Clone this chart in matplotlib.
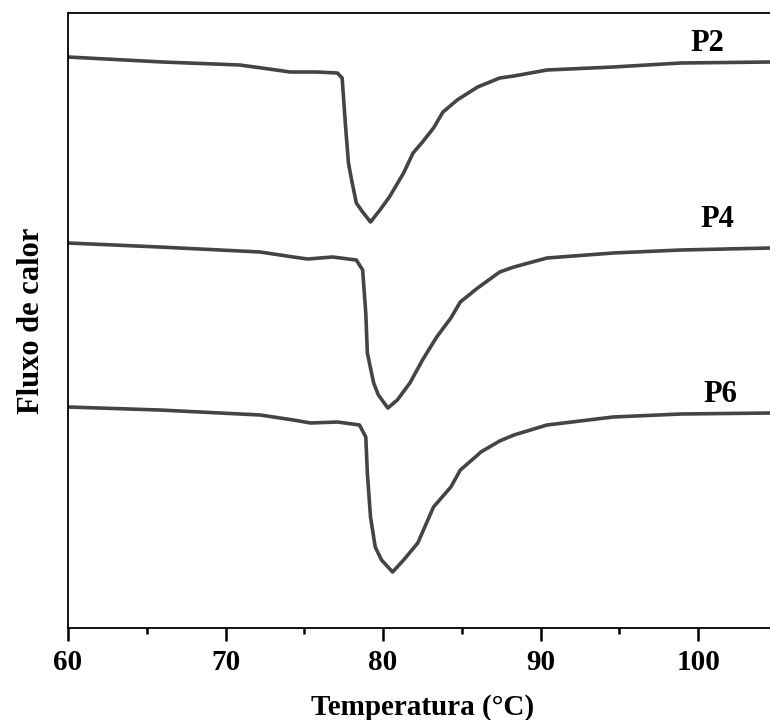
import matplotlib.pyplot as plt
from matplotlib.ticker import MultipleLocator

# Curvas de DSC (fluxo de calor em unidades arbitrarias)
temp_p2 = [60.0, 66.0, 70.9, 72.3, 74.1, 75.8, 77.1, 77.4, 77.6, 77.8, 78.0, 78.3,
           78.7, 79.2, 79.8, 80.4, 81.3, 81.9, 82.5, 83.2, 83.8, 84.7, 86.0, 87.4,
           88.3, 90.4, 94.6, 98.9, 104.6]
fluxo_p2 = [57.1, 56.6, 56.3, 56.0, 55.6, 55.6, 55.5, 55.0, 50.5, 46.5, 44.8, 42.5,
            41.6, 40.6, 41.8, 43.1, 45.5, 47.5, 48.6, 50.0, 51.6, 52.8, 54.1, 55.0,
            55.2, 55.8, 56.1, 56.5, 56.6]

temp_p4 = [60.0, 65.8, 72.2, 74.3, 75.2, 76.8, 78.3, 78.7, 78.9, 79.0, 79.4, 79.7,
           80.3, 80.9, 81.7, 82.5, 83.4, 84.3, 84.9, 86.0, 87.4, 88.3, 90.4, 94.6,
           98.9, 104.6]
fluxo_p4 = [38.5, 38.1, 37.6, 37.1, 36.9, 37.1, 36.8, 35.8, 31.5, 27.5, 24.5, 23.3,
            22.0, 22.8, 24.5, 26.8, 29.1, 31.0, 32.6, 34.0, 35.6, 36.1, 37.0, 37.5,
            37.8, 38.0]

temp_p6 = [60.0, 65.8, 72.2, 74.3, 75.4, 77.1, 78.5, 78.9, 79.0, 79.2, 79.5, 79.9,
           80.6, 81.3, 82.2, 83.2, 84.3, 84.9, 86.0, 86.2, 87.4, 88.3, 90.4, 94.6,
           98.9, 104.6]
fluxo_p6 = [22.1, 21.8, 21.3, 20.8, 20.5, 20.6, 20.3, 19.1, 15.5, 11.1, 8.1, 6.8,
            5.6, 6.8, 8.5, 12.1, 14.1, 15.8, 17.3, 17.6, 18.7, 19.3, 20.3, 21.1,
            21.4, 21.5]

rotulos = ['P2', 'P4', 'P6']
pos_rotulos = [(100.6, 58.4), (101.2, 40.8), (101.4, 23.4)]

plt.rcParams['font.family'] = ['Liberation Serif', 'DejaVu Serif']
plt.rcParams['font.weight'] = 'bold'

fig = plt.figure(figsize=(7.7, 7.2), dpi=100)
ax = fig.add_axes([68 / 770, 1 - 628 / 720, 709 / 770, 615 / 720])

cor = '#444444'
for t, f in [(temp_p2, fluxo_p2), (temp_p4, fluxo_p4), (temp_p6, fluxo_p6)]:
    ax.plot(t, f, color=cor, lw=2.6, solid_joinstyle='round')

for nome, (x, y) in zip(rotulos, pos_rotulos):
    ax.text(x, y, nome, fontsize=22, fontweight='bold', ha='center', va='center')

ax.set_xlim(60, 105)
ax.set_ylim(0, 61.5)
ax.xaxis.set_major_locator(MultipleLocator(10))
ax.xaxis.set_minor_locator(MultipleLocator(5))
ax.tick_params(axis='x', which='major', direction='out', length=9, width=1.8,
               labelsize=21, pad=6)
ax.tick_params(axis='x', which='minor', direction='out', length=4, width=1.8)
ax.set_yticks([])
ax.spines['right'].set_visible(False)
for s in ['left', 'bottom', 'top']:
    ax.spines[s].set_linewidth(1.3)

ax.set_xlabel('Temperatura (°C)', fontsize=21, fontweight='bold', labelpad=13)
ax.set_ylabel('Fluxo de calor', fontsize=22, fontweight='bold', labelpad=16)

fig.savefig('out.png', dpi=100)
